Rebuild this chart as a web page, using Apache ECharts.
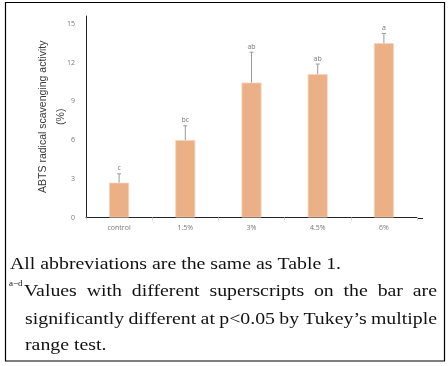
<!DOCTYPE html>
<html>
<head>
<meta charset="utf-8">
<script src="https://cdn.jsdelivr.net/npm/echarts@6/dist/echarts.min.js"></script>
<style>html,body{margin:0;padding:0;background:#fff}#c{width:448px;height:366px}</style>
</head>
<body>
<div id="c"></div>
<script>
const categories = ['control', '1.5%', '3%', '4.5%', '6%'];
const means = [2.7, 6.0, 10.45, 11.1, 13.5];
const errors = [0.68, 1.1, 2.35, 0.78, 0.75];
const letters = ['c', 'bc', 'ab', 'ab', 'a'];
const yTickStep = 3;
const yName = 'ABTS radical scavenging activity\n(%)';
const captionLines = [
  'All abbreviations are the same as Table 1.',
  'Values with different superscripts on the bar are',
  'significantly different at p<0.05 by Tukey\u2019s multiple',
  'range test.'
];
const superscript = 'a\u2212d';

const chart = echarts.init(document.getElementById('c'), null, {renderer: 'canvas'});
const tickFont = '"Open Sans", "Noto Sans", sans-serif';

const capFont = 'Liberation Serif, DejaVu Serif, serif';
const capSize = 16.5;
const ctx = document.createElement('canvas').getContext('2d');
ctx.font = capSize + 'px ' + capFont;
// the reference's serif face is wider than Liberation Serif: stretch horizontally
const firstWidth = ctx.measureText(captionLines[0]).width;
const sx = (341 - 10) / firstWidth;
function textEl(w, x, y) {
  return {type: 'text', x: x, y: y, scaleX: sx, scaleY: 1,
    style: {text: w, font: capSize + 'px ' + capFont, fill: '#111', textVerticalAlign: 'middle'}};
}
function justified(text, x0, x1, y) {
  const words = text.split(' ');
  const widths = words.map(w => ctx.measureText(w).width * sx);
  const total = widths.reduce((a, b) => a + b, 0);
  const gap = (x1 - x0 - total) / (words.length - 1);
  let x = x0;
  return words.map((w, i) => {
    const el = textEl(w, x, y);
    x += widths[i] + gap;
    return el;
  });
}

const graphics = [
  {type: 'rect', shape: {x: 5.5, y: 2.5, width: 439, height: 358.5},
   style: {fill: 'none', stroke: '#000', lineWidth: 1.2}, z: 10},
  textEl(captionLines[0], 10, 265),
  {type: 'text', x: 9, y: 284,
   style: {text: superscript, font: '9px ' + capFont, fill: '#111', textVerticalAlign: 'middle'}},
  ...justified(captionLines[1], 24, 437, 292),
  ...justified(captionLines[2], 25, 437, 320),
  textEl(captionLines[3], 25, 346)
];

const option = {
  backgroundColor: '#fff',
  animation: false,
  grid: {left: 86, right: 31, top: 16, bottom: 148.5},
  xAxis: {
    type: 'category',
    data: categories,
    axisLine: {lineStyle: {color: '#222', width: 1}},
    axisTick: {show: true, length: 3, lineStyle: {color: '#d0d0d0'}},
    axisLabel: {fontSize: 7, color: '#777', margin: 7, fontFamily: tickFont}
  },
  yAxis: {
    type: 'value',
    min: 0, max: 15.6, interval: yTickStep,
    name: yName,
    nameLocation: 'middle',
    nameRotate: 90,
    nameGap: 16,
    nameMoveOverlap: false,
    nameTextStyle: {fontSize: 10.5, color: '#3a3a3a', lineHeight: 18, fontFamily: 'Liberation Sans, Arial, sans-serif'},
    axisLine: {show: true, lineStyle: {color: '#222', width: 1}},
    axisTick: {show: false},
    splitLine: {show: false},
    axisLabel: {fontSize: 7, color: '#777', margin: 11, fontFamily: tickFont,
      formatter: v => (Math.abs(v / yTickStep - Math.round(v / yTickStep)) < 1e-6 ? String(v) : '')}
  },
  series: [
    {
      type: 'bar',
      data: means,
      barWidth: 20,
      itemStyle: {color: '#ECB087', borderColor: '#F6D3BB', borderWidth: 0.8}
    },
    {
      type: 'custom',
      data: means.map((m, i) => [i, m, m + errors[i], letters[i]]),
      z: 5,
      renderItem: function (params, api) {
        const x = api.coord([api.value(0), 0])[0];
        const yb = api.coord([0, api.value(1)])[1];
        const yt = api.coord([0, api.value(2)])[1];
        return {
          type: 'group',
          children: [
            {type: 'line', shape: {x1: x, y1: yb, x2: x, y2: yt}, style: {stroke: '#999', lineWidth: 1}},
            {type: 'line', shape: {x1: x - 2, y1: yt, x2: x + 2, y2: yt}, style: {stroke: '#999', lineWidth: 1}},
            {type: 'text', x: x, y: yt - 2,
             style: {text: letters[params.dataIndex], fontSize: 7, fill: '#777', fontFamily: tickFont,
                     textAlign: 'center', textVerticalAlign: 'bottom'}}
          ]
        };
      }
    }
  ],
  graphic: graphics
};
chart.setOption(option);

// extend x axis line slightly beyond last category, as in the reference
const p0 = chart.convertToPixel({xAxisIndex: 0, yAxisIndex: 0}, [categories.length - 1, 0]);
const gridRight = 448 - 31;
chart.setOption({graphic: graphics.concat([
  {type: 'line', shape: {x1: gridRight, y1: Math.round(p0[1]) + 0.5, x2: gridRight + 6, y2: Math.round(p0[1]) + 0.5},
   style: {stroke: '#222', lineWidth: 1}}
])});
</script>
</body>
</html>
